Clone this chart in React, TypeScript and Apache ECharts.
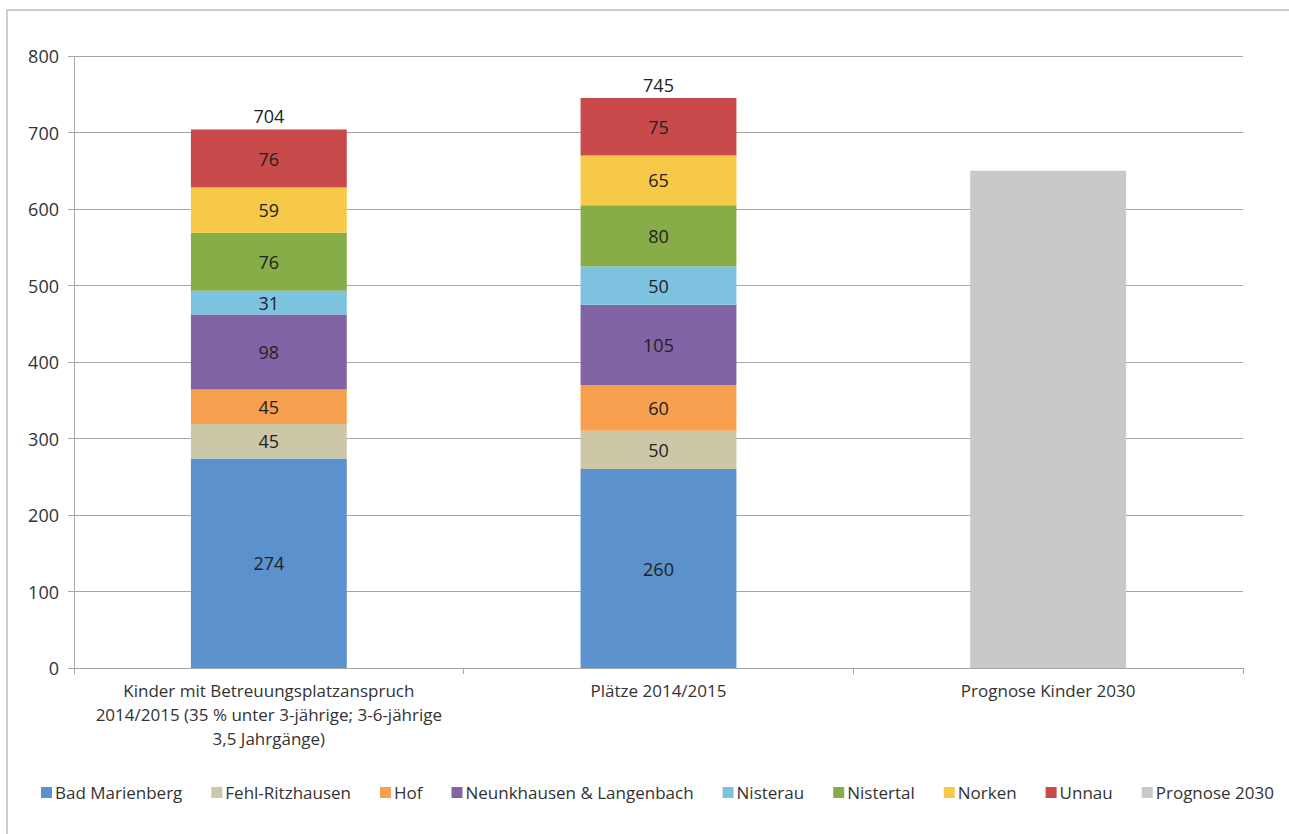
import React, { useEffect, useRef } from "react";
import * as echarts from "echarts";

const categories = [
  "Kinder mit Betreuungsplatzanspruch\n2014/2015 (35 % unter 3-jährige; 3-6-jährige\n3,5 Jahrgänge)",
  "Plätze 2014/2015",
  "Prognose Kinder 2030",
];
const seriesNames = [
  "Bad Marienberg",
  "Fehl-Ritzhausen",
  "Hof",
  "Neunkhausen & Langenbach",
  "Nisterau",
  "Nistertal",
  "Norken",
  "Unnau",
];
const badMarienberg = [274, 260, null];
const fehlRitzhausen = [45, 50, null];
const hof = [45, 60, null];
const neunkhausen = [98, 105, null];
const nisterau = [31, 50, null];
const nistertal = [76, 80, null];
const norken = [59, 65, null];
const unnau = [76, 75, null];
const prognose2030 = [null, null, 650];
const yTicks = { min: 0, max: 800, interval: 100 };

const seriesValues = [badMarienberg, fehlRitzhausen, hof, neunkhausen, nisterau, nistertal, norken, unnau];
const colors = ["#5B92CD", "#CCC7A6", "#F7A04F", "#8064A5", "#7DC3DF", "#86AD47", "#F7C948", "#C84A4B"];
const FONT = "'Open Sans', 'Noto Sans', sans-serif";
const FS = 18;

export default function App() {
  const ref = useRef<HTMLDivElement>(null);
  useEffect(() => {
    if (!ref.current) return;
    const chart = echarts.init(ref.current, null, { renderer: "svg" });
    const totals = categories.map((_, i) =>
      seriesValues.reduce((s, arr) => s + (arr[i] ?? 0), 0)
    );
    const series: any[] = seriesValues.map((vals, k) => ({
      name: seriesNames[k],
      type: "bar",
      stack: "total",
      barWidth: "40%",
      data: vals.map((v) => (v == null ? "-" : v)),
      itemStyle: { color: colors[k] },
      label: {
        show: true,
        position: "inside",
        color: "#222",
        fontSize: FS,
        fontFamily: FONT,
      },
    }));
    series.push({
      name: "Summe",
      type: "bar",
      stack: "total",
      barWidth: "40%",
      data: totals.map((t, i) => (i < 2 ? 0 : "-")),
      itemStyle: { color: "transparent" },
      label: {
        show: true,
        position: "top",
        distance: 4,
        color: "#222",
        fontSize: FS,
        fontFamily: FONT,
        formatter: (p: any) => String(totals[p.dataIndex]),
      },
    });
    series.push({
      name: "Prognose 2030",
      type: "bar",
      stack: "total",
      barWidth: "40%",
      data: prognose2030.map((v) => (v == null ? "-" : v)),
      itemStyle: { color: "#C9C9C9" },
    });

    chart.setOption({
      animation: false,
      backgroundColor: "#fff",
      textStyle: { fontFamily: FONT },
      graphic: [
        {
          type: "rect",
          shape: { x: 7, y: 10, width: 1400, height: 900 },
          style: { fill: "none", stroke: "#BDBDBD", lineWidth: 1.5 },
          silent: true,
          z: -1,
        },
      ],
      grid: { left: 74, right: 46, top: 56, bottom: 166 },
      legend: {
        data: [...seriesNames, "Prognose 2030"],
        bottom: 28,
        left: 36,
        itemWidth: 11,
        itemHeight: 11,
        itemGap: 29,
        icon: "rect",
        textStyle: { fontSize: FS - 1, color: "#333", fontFamily: FONT, padding: [0, 0, 0, -2] },
      },
      xAxis: {
        type: "category",
        data: categories,
        axisLine: { lineStyle: { color: "#A6A6A6" } },
        axisTick: { show: true, length: 6, lineStyle: { color: "#A6A6A6" } },
        axisLabel: {
          color: "#333",
          fontSize: FS - 1,
          lineHeight: 24,
          margin: 10,
          interval: 0,
          fontFamily: FONT,
        },
      },
      yAxis: {
        type: "value",
        min: yTicks.min,
        max: yTicks.max,
        interval: yTicks.interval,
        axisLine: { show: true, lineStyle: { color: "#A6A6A6" } },
        axisTick: { show: true, length: 6, lineStyle: { color: "#A6A6A6" } },
        splitLine: { lineStyle: { color: "#A6A6A6" } },
        axisLabel: { color: "#333", fontSize: FS, margin: 15, fontFamily: FONT },
      },
      series,
    });
    return () => chart.dispose();
  }, []);
  return (
    <div
      ref={ref}
      style={{ position: "absolute", left: 0, top: 0, width: 1289, height: 834 }}
    />
  );
}
